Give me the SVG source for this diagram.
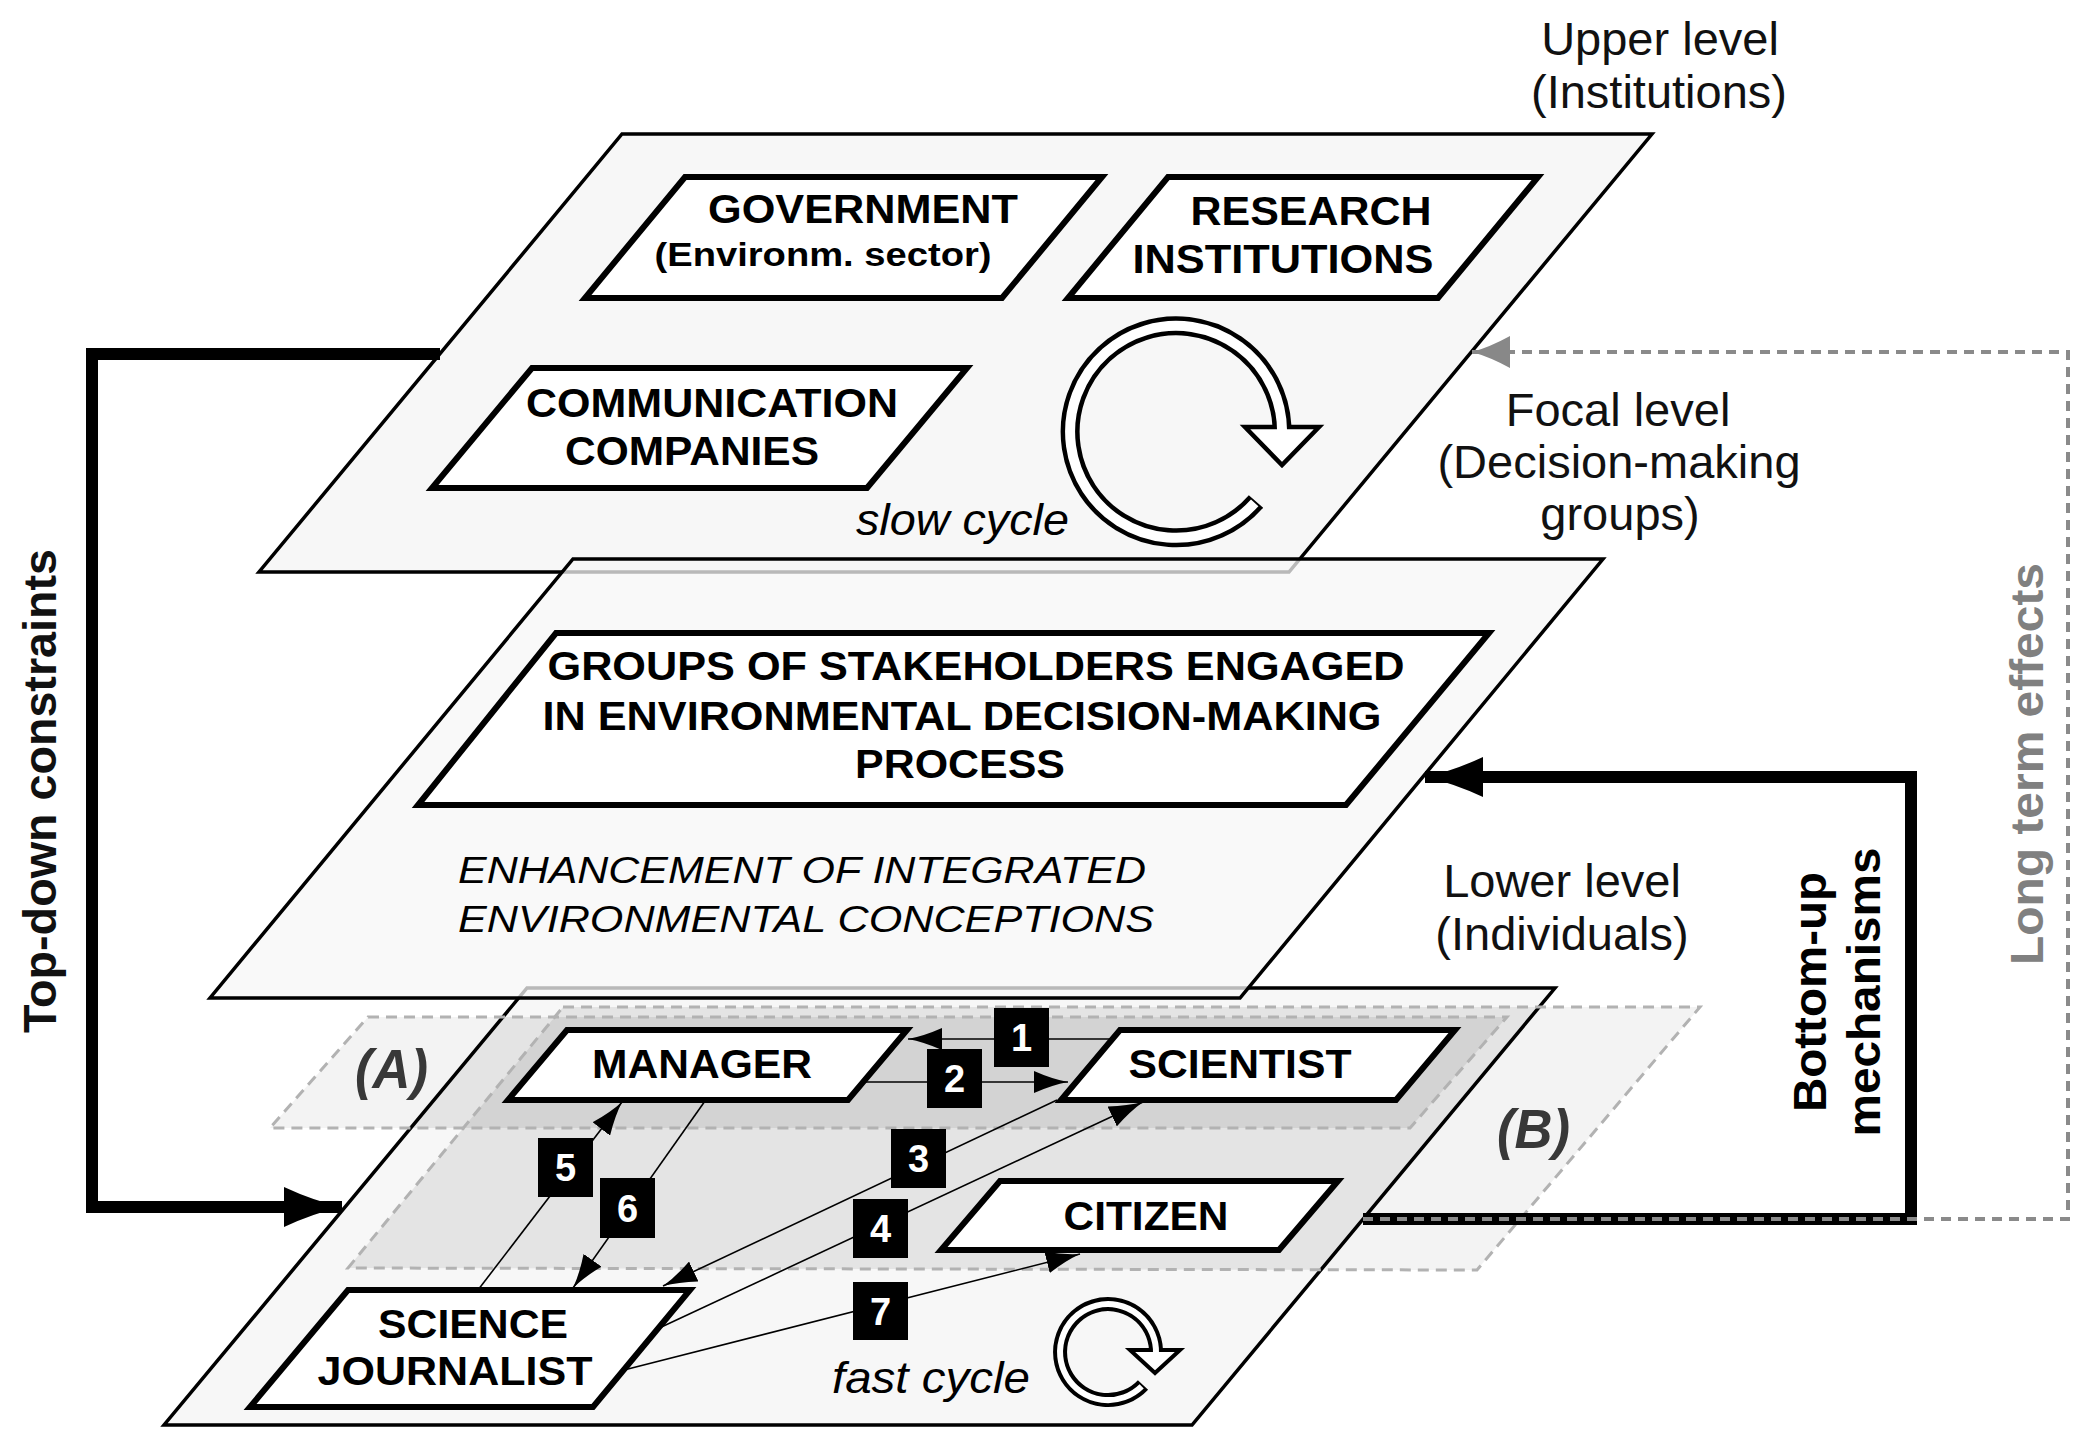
<svg xmlns="http://www.w3.org/2000/svg" width="2083" height="1434" viewBox="0 0 2083 1434">
<style>
.plane{fill:#f7f7f7;stroke:#000;stroke-width:3.5;stroke-linejoin:miter}
.node{fill:#fff;stroke:#000;stroke-width:6;stroke-linejoin:miter}
.lbl{font-family:"Liberation Sans",Arial,sans-serif;font-weight:bold;font-size:40px;text-anchor:middle;fill:#000}
.lvl{font-family:"Liberation Sans",Arial,sans-serif;font-size:47px;text-anchor:middle;fill:#111}
.ital{font-family:"Liberation Sans",Arial,sans-serif;font-style:italic;fill:#000}
.rl{font-family:"Liberation Sans",Arial,sans-serif;font-style:italic;font-weight:bold;font-size:56px;fill:#383838}
.side{font-family:"Liberation Sans",Arial,sans-serif;font-weight:bold;font-size:46px;text-anchor:middle}
.badge rect{fill:#000}
.badge text{fill:#fff;font-family:"Liberation Sans",Arial,sans-serif;font-weight:bold;font-size:38px;text-anchor:middle}
.conn{fill:none;stroke:#000;stroke-width:1.6}
.rgn{fill:none;stroke:#b2b2b2;stroke-width:3;stroke-dasharray:11 7}
.cyc-out{fill:none;stroke:#000}
.cyc-in{fill:none;stroke:#fff}
</style>
<defs>
<marker id="ahBig" markerUnits="userSpaceOnUse" markerWidth="58" markerHeight="40" viewBox="0 0 58 40" refX="58" refY="20" orient="auto"><path d="M0,0 Q30,14 58,20 Q30,26 0,40 Z" fill="#000"/></marker>
<marker id="ahGrey" markerUnits="userSpaceOnUse" markerWidth="38" markerHeight="32" viewBox="0 0 38 32" refX="38" refY="16" orient="auto"><path d="M0,0 Q20,11 38,16 Q20,21 0,32 Z" fill="#888"/></marker>
<marker id="ah" markerUnits="userSpaceOnUse" markerWidth="34" markerHeight="22" viewBox="0 0 34 22" refX="34" refY="11" orient="auto"><path d="M0,0 Q18,8 34,11 Q18,14 0,22 Z" fill="#000"/></marker>
<clipPath id="lowerClip"><polygon points="527,988 1555,988 1192,1425 164,1425"/></clipPath>
</defs>

<rect width="2083" height="1434" fill="#fff"/>

<g id="label-upper">
<text class="lvl" x="1660" y="55">Upper level</text>
<text class="lvl" x="1659" y="108">(Institutions)</text>
</g>
<g id="label-focal">
<text class="lvl" x="1618" y="426">Focal level</text>
<text class="lvl" x="1619" y="478">(Decision-making</text>
<text class="lvl" x="1620" y="530">groups)</text>
</g>
<g id="label-lower">
<text class="lvl" x="1562" y="897">Lower level</text>
<text class="lvl" x="1562" y="950">(Individuals)</text>
</g>

<g id="upper-level">
<polygon class="plane" points="622,134 1652,134 1289,572 259,572"/>
<g id="node-government">
<polygon class="node" points="685,177 1102,177 1002,298 585,298"/>
<text class="lbl" x="863" y="223" textLength="310" lengthAdjust="spacingAndGlyphs">GOVERNMENT</text>
<text class="lbl" x="823" y="266" style="font-size:33px" textLength="337" lengthAdjust="spacingAndGlyphs">(Environm. sector)</text>
</g>
<g id="node-research">
<polygon class="node" points="1168,177 1538,177 1438,298 1068,298"/>
<text class="lbl" x="1311" y="225" textLength="241" lengthAdjust="spacingAndGlyphs">RESEARCH</text>
<text class="lbl" x="1283" y="273" textLength="301" lengthAdjust="spacingAndGlyphs">INSTITUTIONS</text>
</g>
<g id="node-communication">
<polygon class="node" points="532,368 967,368 867,488 432,488"/>
<text class="lbl" x="712" y="417" textLength="372" lengthAdjust="spacingAndGlyphs">COMMUNICATION</text>
<text class="lbl" x="692" y="465" textLength="254" lengthAdjust="spacingAndGlyphs">COMPANIES</text>
</g>
<text class="ital" x="856" y="535" style="font-size:44px" textLength="213" lengthAdjust="spacingAndGlyphs">slow cycle</text>
<g id="slow-cycle-arrow">
<path class="cyc-out" stroke-width="19" d="M1256,501.5 A106,106 0 1 1 1282,426.5"/>
<polygon points="1245,427 1319,427 1282,465" fill="#fff" stroke="#000" stroke-width="4.5" stroke-linejoin="miter"/>
<path class="cyc-in" stroke-width="10" d="M1256,501.5 A106,106 0 1 1 1282.1,431.5" stroke-dasharray="0 2 2000"/>
</g>
</g>

<g id="lower-level">
<g id="region-fills-outside" fill="#f3f3f3">
<polygon points="563,1007 1700,1007 1477,1270 348,1268"/>
<polygon points="368,1017 1507,1017 1410,1128 270,1128"/>
</g>
<polygon points="527,988 1555,988 1192,1425 164,1425" fill="#f7f7f7"/>
<g clip-path="url(#lowerClip)">
<polygon points="563,1007 1700,1007 1477,1270 348,1268" fill="#e4e4e4"/>
<polygon points="368,1017 1507,1017 1410,1128 270,1128" fill="#000" fill-opacity="0.075"/>
</g>
<polygon points="527,988 1555,988 1192,1425 164,1425" fill="none" stroke="#000" stroke-width="3.5"/>
<g id="region-B"><polygon class="rgn" points="563,1007 1700,1007 1477,1270 348,1268"/>
<text class="rl" x="1497" y="1148" textLength="73" lengthAdjust="spacingAndGlyphs">(B)</text></g>
<g id="region-A"><polygon class="rgn" points="368,1017 1507,1017 1410,1128 270,1128"/>
<text class="rl" x="355" y="1088" textLength="73" lengthAdjust="spacingAndGlyphs">(A)</text></g>

<g id="connectors-lower">
<path class="conn" marker-end="url(#ah)" d="M1112,1039 L908,1039"/>
<path class="conn" marker-end="url(#ah)" d="M864,1082 L1068,1082"/>
<path class="conn" marker-end="url(#ah)" d="M1057,1100 L663,1286"/>
<path class="conn" marker-end="url(#ah)" d="M655,1330 L1143,1102"/>
<path class="conn" marker-end="url(#ah)" d="M478,1290 L622,1102"/>
<path class="conn" marker-end="url(#ah)" d="M705,1101 L573,1288"/>
<path class="conn" marker-end="url(#ah)" d="M624,1370 L1080,1254"/>
</g>

<g id="node-manager">
<polygon class="node" points="567,1030 907,1030 848,1100 508,1100"/>
<text class="lbl" x="702" y="1078" textLength="220" lengthAdjust="spacingAndGlyphs">MANAGER</text>
</g>
<g id="node-scientist">
<polygon class="node" points="1120,1030 1455,1030 1396,1100 1061,1100"/>
<text class="lbl" x="1240" y="1078" textLength="223" lengthAdjust="spacingAndGlyphs">SCIENTIST</text>
</g>
<g id="node-citizen">
<polygon class="node" points="1000,1181 1338,1181 1279,1250 941,1250"/>
<text class="lbl" x="1146" y="1230" textLength="165" lengthAdjust="spacingAndGlyphs">CITIZEN</text>
</g>
<g id="node-journalist">
<polygon class="node" points="348,1290 690,1290 593,1407 250,1407"/>
<text class="lbl" x="473" y="1338" textLength="190" lengthAdjust="spacingAndGlyphs">SCIENCE</text>
<text class="lbl" x="455" y="1385" textLength="275" lengthAdjust="spacingAndGlyphs">JOURNALIST</text>
</g>

<g id="badges" class="badge">
<g id="badge-1"><rect x="994" y="1008" width="55" height="59"/><text x="1021.5" y="1051">1</text></g>
<g id="badge-2"><rect x="927" y="1049" width="55" height="59"/><text x="954.5" y="1092">2</text></g>
<g id="badge-3"><rect x="891" y="1129" width="55" height="59"/><text x="918.5" y="1172">3</text></g>
<g id="badge-4"><rect x="853" y="1199" width="55" height="59"/><text x="880.5" y="1242">4</text></g>
<g id="badge-5"><rect x="538" y="1138" width="55" height="59"/><text x="565.5" y="1181">5</text></g>
<g id="badge-6"><rect x="600" y="1178" width="55" height="60"/><text x="627.5" y="1222">6</text></g>
<g id="badge-7"><rect x="853" y="1282" width="55" height="58"/><text x="880.5" y="1325">7</text></g>
</g>

<text class="ital" x="832" y="1393" style="font-size:44px" textLength="198" lengthAdjust="spacingAndGlyphs">fast cycle</text>
<g id="fast-cycle-arrow">
<path class="cyc-out" stroke-width="14" d="M1143,1385 A48,48 0 1 1 1156,1350"/>
<polygon points="1130,1350 1180,1350 1155,1373" fill="#fff" stroke="#000" stroke-width="4" stroke-linejoin="miter"/>
<path class="cyc-in" stroke-width="6" d="M1143,1385 A48,48 0 1 1 1156,1354" stroke-dasharray="0 2 2000"/>
</g>
</g>

<g id="focal-level">
<polygon class="plane" points="573,559 1603,559 1240,998 210,998" fill-opacity="0.75"/>
<g id="node-groups">
<polygon class="node" points="556,633 1489,633 1346,805 418,805"/>
<text class="lbl" x="976" y="680" textLength="857" lengthAdjust="spacingAndGlyphs">GROUPS OF STAKEHOLDERS ENGAGED</text>
<text class="lbl" x="962" y="730" textLength="839" lengthAdjust="spacingAndGlyphs">IN ENVIRONMENTAL DECISION-MAKING</text>
<text class="lbl" x="960" y="778" textLength="210" lengthAdjust="spacingAndGlyphs">PROCESS</text>
</g>
<text class="ital" x="458" y="883" style="font-size:37px" textLength="688" lengthAdjust="spacingAndGlyphs">ENHANCEMENT OF INTEGRATED</text>
<text class="ital" x="458" y="932" style="font-size:37px" textLength="696" lengthAdjust="spacingAndGlyphs">ENVIRONMENTAL CONCEPTIONS</text>
</g>

<g id="connectors">
<path id="top-down" fill="none" stroke="#000" stroke-width="12" stroke-linejoin="miter" marker-end="url(#ahBig)" d="M440,354 H92 V1207 H342"/>
<path id="bottom-up" fill="none" stroke="#000" stroke-width="12" stroke-linejoin="miter" marker-end="url(#ahBig)" d="M1363,1219 H1911 V777 H1425"/>
<path id="long-term" fill="none" stroke="#8a8a8a" stroke-width="4" stroke-dasharray="10 7" marker-end="url(#ahGrey)" d="M1363,1219 H2068 V352 H1472"/>
</g>

<g id="side-labels">
<text class="side" transform="translate(56,791) rotate(-90)" fill="#111" textLength="484" lengthAdjust="spacingAndGlyphs">Top-down constraints</text>
<text class="side" transform="translate(1826,992) rotate(-90)" fill="#000" textLength="240" lengthAdjust="spacingAndGlyphs">Bottom-up</text>
<text class="side" transform="translate(1880,992) rotate(-90)" fill="#000" textLength="289" lengthAdjust="spacingAndGlyphs">mechanisms</text>
<text class="side" transform="translate(2043,764) rotate(-90)" fill="#808080" textLength="402" lengthAdjust="spacingAndGlyphs">Long term effects</text>
</g>
</svg>
